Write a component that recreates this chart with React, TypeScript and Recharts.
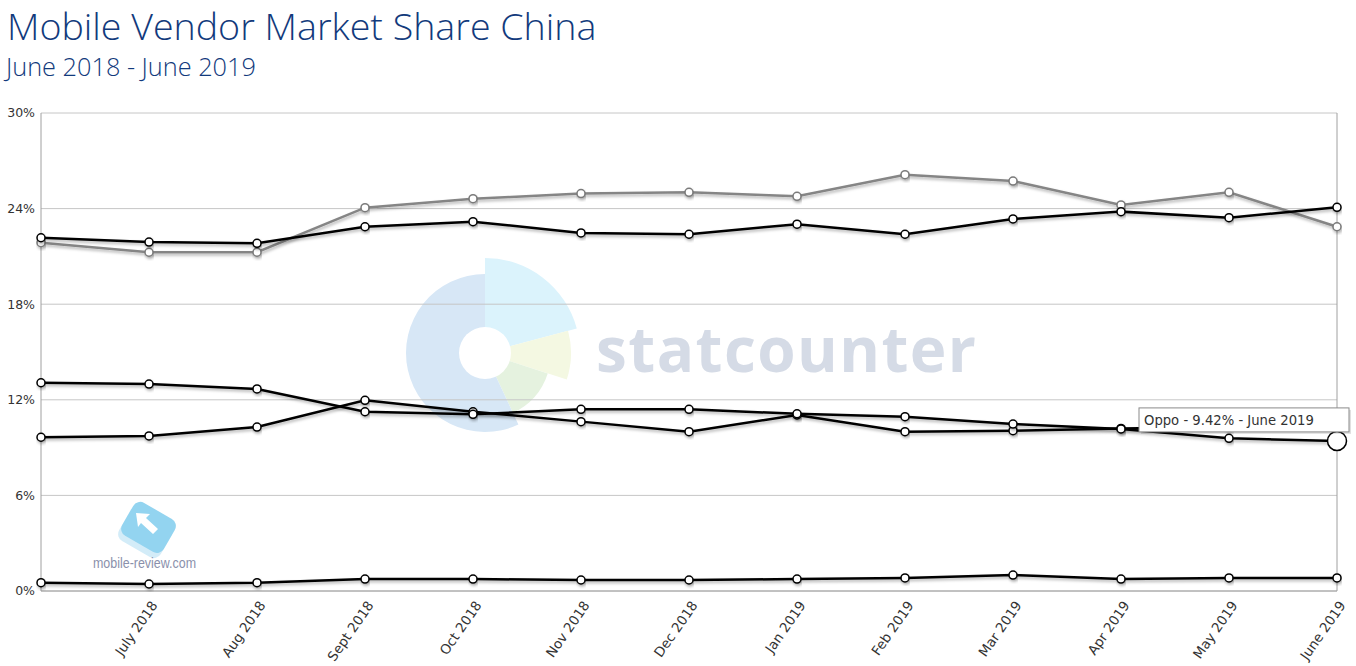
import React from "react";
import {
  LineChart,
  Line,
  XAxis,
  YAxis,
  CartesianGrid,
  ReferenceLine,
  ReferenceDot,
} from "recharts";

const months = [
  "June 2018", "July 2018", "Aug 2018", "Sept 2018", "Oct 2018", "Nov 2018",
  "Dec 2018", "Jan 2019", "Feb 2019", "Mar 2019", "Apr 2019", "May 2019", "June 2019",
];
const tickLabels = [
  "", "July 2018", "Aug 2018", "Sept 2018", "Oct 2018", "Nov 2018",
  "Dec 2018", "Jan 2019", "Feb 2019", "Mar 2019", "Apr 2019", "May 2019", "June 2019",
];
const apple = [21.86, 21.26, 21.26, 24.06, 24.62, 24.94, 25.02, 24.77, 26.13, 25.73, 24.23, 25.02, 22.86];
const huawei = [22.17, 21.9, 21.82, 22.86, 23.18, 22.47, 22.39, 23.02, 22.39, 23.35, 23.81, 23.43, 24.08];
const oppo = [13.07, 12.99, 12.68, 11.25, 11.09, 11.4, 11.4, 11.12, 10.94, 10.48, 10.17, 9.58, 9.42];
const vivo = [9.65, 9.73, 10.29, 11.97, 11.25, 10.63, 10.0, 11.05, 10.0, 10.06, 10.2, 10.3, 10.45];
const samsung = [0.52, 0.44, 0.52, 0.75, 0.75, 0.69, 0.69, 0.75, 0.82, 1.0, 0.75, 0.82, 0.82];
const yTicks = [0, 6, 12, 18, 24, 30];

const data = months.map((m, i) => ({
  month: m,
  apple: apple[i],
  huawei: huawei[i],
  oppo: oppo[i],
  vivo: vivo[i],
  samsung: samsung[i],
}));

const TICK_FONT = "'DejaVu Sans', Verdana, sans-serif";

const XTick = (props: any) => {
  const { x, y, index } = props;
  const label = tickLabels[index];
  if (!label) return null;
  return (
    <text
      transform={`translate(${x + 6},${y + 4}) rotate(-55)`}
      textAnchor="end"
      dominantBaseline="middle"
      fontFamily={TICK_FONT}
      fontSize={13.5}
      fill="#333"
    >
      {label}
    </text>
  );
};

const TooltipDot = (props: any) => {
  const { cx, cy } = props;
  const text = `Oppo - ${oppo[oppo.length - 1]}% - ${months[months.length - 1]}`;
  return (
    <g>
      <circle cx={cx} cy={cy} r={9.5} fill="#fff" stroke="#000" strokeWidth={1.5} />
      <rect x={cx - 196} y={cy - 31} width={210} height={24} fill="#000" opacity={0.12} />
      <rect x={cx - 198} y={cy - 33} width={210} height={24} fill="#fff" stroke="#8a8a8a" strokeWidth={1} />
      <text x={cx - 193} y={cy - 16} fontFamily={TICK_FONT} fontSize={13.2} fill="#333">
        {text}
      </text>
    </g>
  );
};

const dotBlack = { r: 4, fill: "#fff", stroke: "#000", strokeWidth: 1.5 };
const dotGray = { r: 4, fill: "#fff", stroke: "#7a7a7a", strokeWidth: 1.5 };

// statcounter logo wedge helper (angles clockwise from 12 o'clock)
const wedge = (cx: number, cy: number, r: number, a0: number, a1: number) => {
  const p = (a: number) => {
    const t = (a * Math.PI) / 180;
    return `${cx + r * Math.sin(t)},${cy - r * Math.cos(t)}`;
  };
  const large = a1 - a0 > 180 ? 1 : 0;
  return `M${cx},${cy} L${p(a0)} A${r},${r} 0 ${large} 1 ${p(a1)} Z`;
};

export default function App() {
  return (
    <div style={{ position: "absolute", left: 0, top: 0, width: 1356, height: 666, background: "#fff" }}>
      <svg width={1356} height={666} style={{ position: "absolute", left: 0, top: 0 }}>
        <text x={7} y={40} fontFamily="'Open Sans', sans-serif" fontWeight={300} fontSize={37.6} fill="#123a7c">
          Mobile Vendor Market Share China
        </text>
        <text x={6} y={76} fontFamily="'Open Sans', sans-serif" fontWeight={300} fontSize={25.3} fill="#123a7c">
          June 2018 - June 2019
        </text>
        {/* statcounter watermark */}
        <g>
          <path d={wedge(485, 353, 95, 0, 75)} fill="#dbf3fc" />
          <path d={wedge(485, 353, 86, 75, 108)} fill="#f4f8e2" />
          <path d={wedge(485, 353, 66, 108, 155)} fill="#e5f2df" />
          <path d={wedge(485, 353, 79, 155, 360)} fill="#d7e7f6" />
          <circle cx={485} cy={353} r={26} fill="#fff" />
        </g>
        <text x={596} y={372} fontFamily="'Open Sans', sans-serif" fontWeight={700} fontSize={62} fill="#d5dbe6" textLength={380}>
          statcounter
        </text>
        {/* mobile-review watermark */}
        <g transform="translate(147,530) rotate(30)">
          <rect x={-24} y={-16} width={48} height={38} rx={8} fill="#d3ecf8" />
          <rect x={-24} y={-22} width={48} height={38} rx={8} fill="#93d4f0" />
        </g>
        <path d="M136,513 L150,514 L146,518 L158,529 L153,534 L141,523 L138,527 Z" fill="#fff" />
        <text x={93} y={568} fontFamily="'Liberation Sans', sans-serif" fontSize={14} fill="#8a90ab" textLength={103} lengthAdjust="spacingAndGlyphs">
          mobile-review.com
        </text>
      </svg>
      <div style={{ position: "absolute", left: 0, top: 0 }}>
        <LineChart
          width={1356}
          height={666}
          data={data}
          margin={{ top: 113, right: 19, bottom: 0, left: 0 }}
        >
          <defs>
            <filter id="shadow" x="-5%" y="-50%" width="110%" height="200%">
              <feDropShadow dx={1} dy={2} stdDeviation={1.5} floodColor="#000" floodOpacity={0.3} />
            </filter>
          </defs>
          <CartesianGrid vertical={false} stroke="#c6c6c6" strokeWidth={1} />
          <XAxis
            dataKey="month"
            height={75}
            axisLine={{ stroke: "#a0a0a0" }}
            tickLine={false}
            tick={<XTick />}
            interval={0}
          />
          <YAxis
            width={41}
            domain={[0, 30]}
            ticks={yTicks}
            tickFormatter={(v: number) => `${v}%`}
            axisLine={{ stroke: "#a0a0a0" }}
            tickLine={false}
            tickSize={4}
            tickMargin={2}
            tick={{ fontFamily: TICK_FONT, fontSize: 12.5, fill: "#333" }}
          />
          <ReferenceLine x={months[months.length - 1]} stroke="#a0a0a0" />
          <Line dataKey="apple" stroke="#858585" strokeWidth={2.5} dot={dotGray} isAnimationActive={false} filter="url(#shadow)" />
          <Line dataKey="huawei" stroke="#000" strokeWidth={2.5} dot={dotBlack} isAnimationActive={false} filter="url(#shadow)" />
          <Line dataKey="vivo" stroke="#000" strokeWidth={2.5} dot={dotBlack} isAnimationActive={false} filter="url(#shadow)" />
          <Line dataKey="oppo" stroke="#000" strokeWidth={2.5} dot={dotBlack} isAnimationActive={false} filter="url(#shadow)" />
          <Line dataKey="samsung" stroke="#000" strokeWidth={2.5} dot={dotBlack} isAnimationActive={false} filter="url(#shadow)" />
          <ReferenceDot
            x={months[months.length - 1]}
            y={oppo[oppo.length - 1]}
            ifOverflow="visible"
            shape={<TooltipDot />}
          />
        </LineChart>
      </div>
    </div>
  );
}
